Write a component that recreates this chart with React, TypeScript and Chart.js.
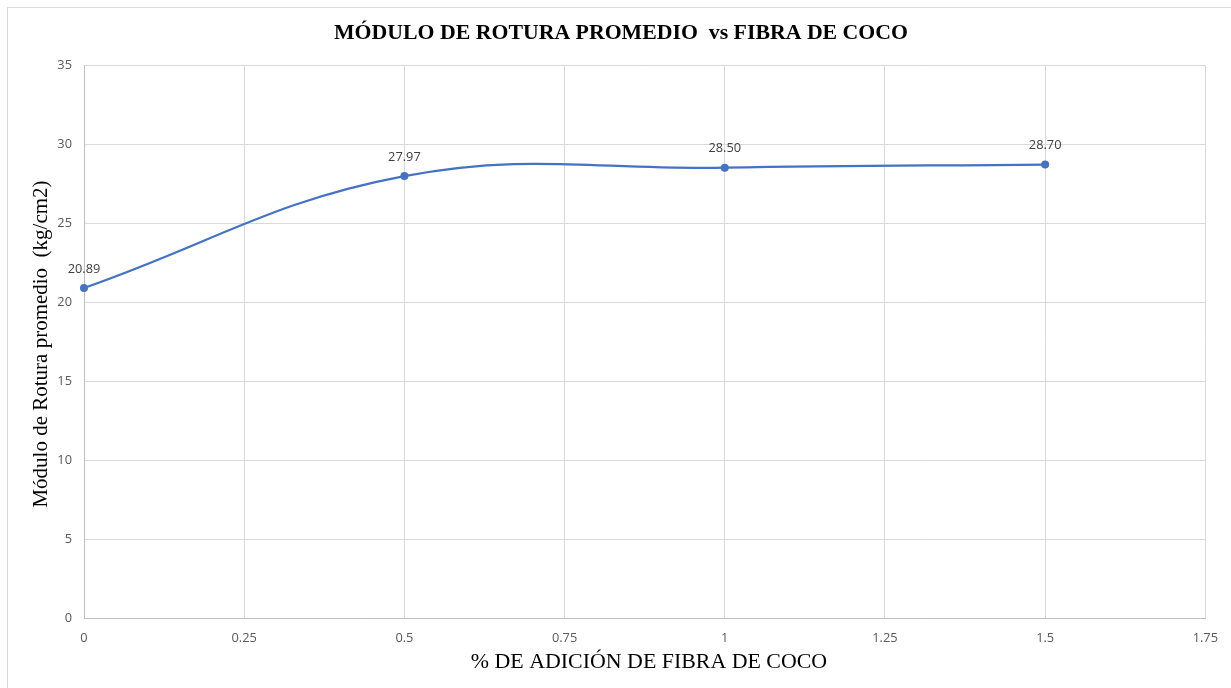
import React, { useEffect, useRef } from "react";
import { Chart, registerables } from "chart.js";

Chart.register(...registerables);

const xValues = [0, 0.5, 1, 1.5];
const yValues = [20.89, 27.97, 28.5, 28.7];
const xTicks = [0, 0.25, 0.5, 0.75, 1, 1.25, 1.5, 1.75];
const yTicks = [0, 5, 10, 15, 20, 25, 30, 35];
const titleText = "MÓDULO DE ROTURA PROMEDIO  vs FIBRA DE COCO";
const xTitle = "% DE ADICIÓN DE FIBRA DE COCO";
const yTitle = "Módulo de Rotura promedio  (kg/cm2)";

export default function App() {
  const ref = useRef<HTMLCanvasElement>(null);
  useEffect(() => {
    const canvas = ref.current!;
    const deco = {
      id: "deco",
      beforeDraw(chart: any) {
        const ctx = chart.ctx;
        ctx.save();
        ctx.fillStyle = "#ffffff";
        ctx.fillRect(0, 0, chart.width, chart.height);
        ctx.strokeStyle = "#d9d9d9";
        ctx.lineWidth = 1;
        ctx.strokeRect(7.5, 7.5, 1260, 720);
        ctx.restore();
      },
      afterDraw(chart: any) {
        const ctx = chart.ctx;
        ctx.save();
        ctx.fillStyle = "#000000";
        ctx.textAlign = "center";
        ctx.textBaseline = "middle";
        ctx.font = "bold 21.8px 'Liberation Serif'";
        ctx.fillText(titleText, 621, 33);
        ctx.fillStyle = "#000000";
        ctx.font = "21.9px 'Liberation Serif'";
        ctx.fillText(xTitle, 649, 662);
        ctx.font = "21px 'Liberation Serif'";
        ctx.translate(41, 344);
        ctx.rotate(-Math.PI / 2);
        ctx.fillText(yTitle, 0, 0);
        ctx.restore();
        // data labels
        const meta = chart.getDatasetMeta(0);
        ctx.save();
        ctx.fillStyle = "#404040";
        ctx.font = "12.8px 'Open Sans'";
        ctx.textAlign = "center";
        ctx.textBaseline = "middle";
        meta.data.forEach((pt: any, i: number) => {
          ctx.fillText(yValues[i].toFixed(2), pt.x, pt.y - 19);
        });
        ctx.restore();
      },
    };
    const chart = new Chart(canvas, {
      type: "line",
      data: {
        datasets: [
          {
            data: xValues.map((x, i) => ({ x, y: yValues[i] })),
            borderColor: "#4472C4",
            backgroundColor: "#4472C4",
            borderWidth: 2.25,
            pointRadius: 4,
            pointBackgroundColor: "#4472C4",
            pointBorderColor: "#4472C4",
            pointBorderWidth: 0,
            tension: 0.4,
            fill: false,
            clip: false,
          } as any,
        ],
      },
      options: {
        animation: false,
        responsive: false,
        maintainAspectRatio: false,
        layout: { padding: { left: 0, right: 25, top: 65, bottom: 0 } },
        plugins: { legend: { display: false }, title: { display: false }, tooltip: { enabled: false } },
        scales: {
          x: {
            type: "linear",
            min: 0,
            max: 1.75,
            afterBuildTicks(scale: any) {
              scale.ticks = xTicks.map((v) => ({ value: v }));
            },
            afterFit(scale: any) {
              scale.height = 70;
            },
            ticks: {
              color: "#595959",
              font: { family: "'Open Sans'", size: 12.8 },
              padding: 13,
              maxRotation: 0,
              callback: (v: any) => String(v),
            },
            grid: { color: "#d9d9d9", lineWidth: 1, drawTicks: false },
            border: { color: "#bfbfbf", width: 1 },
          },
          y: {
            type: "linear",
            min: 0,
            max: 35,
            afterBuildTicks(scale: any) {
              scale.ticks = yTicks.map((v) => ({ value: v }));
            },
            afterFit(scale: any) {
              scale.width = 84;
            },
            ticks: {
              color: "#595959",
              font: { family: "'Open Sans'", size: 12.8 },
              padding: 12,
              callback: (v: any) => String(v),
            },
            grid: { color: "#d9d9d9", lineWidth: 1, drawTicks: false },
            border: { color: "#bfbfbf", width: 1 },
          },
        },
      },
      plugins: [deco],
    });
    return () => chart.destroy();
  }, []);
  return (
    <div style={{ position: "fixed", left: 0, top: 0, width: 1231, height: 688 }}>
      <canvas ref={ref} width={1231} height={688} style={{ display: "block" }} />
    </div>
  );
}
